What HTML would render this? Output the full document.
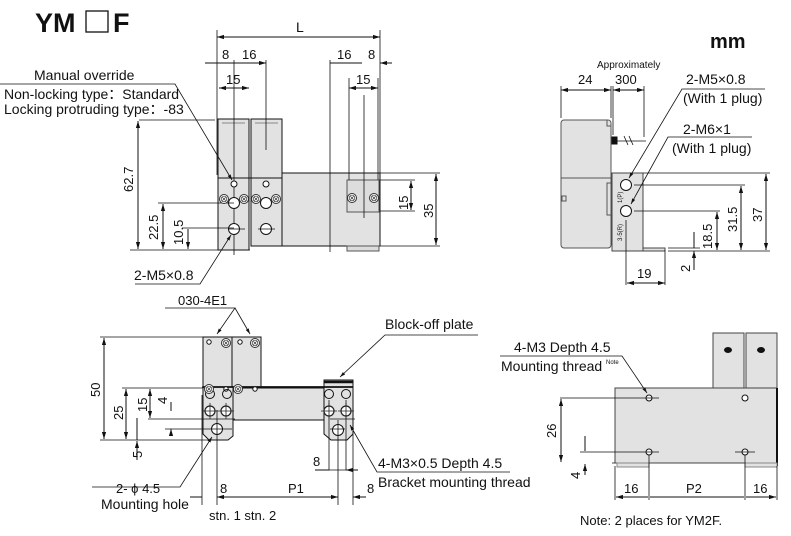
<!DOCTYPE html>
<html><head><meta charset="utf-8"><style>
html,body{margin:0;padding:0;background:#fff}
svg{display:block}
text{font-family:"Liberation Sans",Arial,sans-serif;fill:#111}
</style></head><body>
<svg width="791" height="536" viewBox="0 0 791 536" xmlns="http://www.w3.org/2000/svg">
<defs>
<marker id="a" viewBox="0 0 10 10" refX="10" refY="5" markerWidth="7" markerHeight="7" orient="auto-start-reverse"><path d="M0,2 L10,5 L0,8z" fill="#111"/></marker>
<g id="scr"><circle r="4.5" fill="#fff" stroke="#333" stroke-width="1"/><circle r="2.8" fill="none" stroke="#333" stroke-width="0.7"/><path d="M-1.6,-1.6L1.6,1.6M-1.6,1.6L1.6,-1.6" stroke="#333" stroke-width="0.7"/></g>
<g id="hc"><circle r="5" fill="#fff" stroke="#222" stroke-width="1.2"/><path d="M-8,0H8M0,-8V8" stroke="#222" stroke-width="0.8"/></g>
</defs>
<!-- Title -->
<text x="35" y="32" font-size="27" font-weight="bold">YM</text>
<rect x="86" y="11" width="22" height="21" fill="none" stroke="#111" stroke-width="1.3"/>
<text x="113" y="32" font-size="27" font-weight="bold">F</text>
<text x="710" y="48" font-size="20" font-weight="bold">mm</text>

<g stroke="#111" stroke-width="1" fill="none">
<!-- TOP-LEFT VIEW -->
<rect x="218" y="119" width="31" height="131" fill="#e2e2e2" stroke="#111"/>
<rect x="251" y="119" width="31" height="127" fill="#e2e2e2" stroke="#111"/>
<rect x="282" y="173" width="98" height="73" fill="#e2e2e2" stroke="#111"/>
<path d="M218,178H282" stroke="#111"/>
<rect x="347" y="180" width="32" height="32" fill="#ddd" stroke="#555"/>
<rect x="347" y="246" width="32" height="5" fill="#ddd" stroke="#555"/>
<path d="M222,123H245M255,123H278" stroke="#888"/>
<path d="M217,30V175M234,60V255M266,60V150M330,60V252M380,30V175M349,78V180M378,78V180M364,95V218" stroke="#111" stroke-width="0.8"/>
<path d="M217,37H380" marker-start="url(#a)" marker-end="url(#a)"/>
<path d="M205,63H217M234,63H266" marker-end="url(#a)"/>
<path d="M234,63H210" />
<path d="M330,63H362M392,63H380" marker-end="url(#a)"/>
<path d="M219,88H249" marker-start="url(#a)" marker-end="url(#a)"/>
<path d="M349,88H378" marker-start="url(#a)" marker-end="url(#a)"/>
<circle cx="234" cy="184" r="3" fill="#fff"/><circle cx="266" cy="184" r="3" fill="#fff"/>
<circle cx="234" cy="203" r="5.5" fill="#fff"/><circle cx="266" cy="203" r="5.5" fill="#fff"/>
<circle cx="234" cy="229" r="5.5" fill="#fff"/><circle cx="266" cy="229" r="5.5" fill="#fff"/>
<path d="M228,229H245M258,229H275" stroke-width="0.8"/>
<path d="M130,250H250M158,203H234M182,228H234" stroke-width="0.8"/>
<path d="M139,120H215" stroke-width="0.8"/>
<path d="M138,121V249" marker-start="url(#a)" marker-end="url(#a)"/>
<path d="M163,204V249" marker-start="url(#a)" marker-end="url(#a)"/>
<path d="M188,229V249" marker-end="url(#a)"/>
<path d="M380,173H440M380,246H440M380,180H415M380,211H415" stroke-width="0.8"/>
<path d="M436,174V245" marker-start="url(#a)" marker-end="url(#a)"/>
<path d="M411,181V210" marker-start="url(#a)" marker-end="url(#a)"/>
<path d="M0,84H175L232,180" marker-end="url(#a)" stroke-width="0.8"/>
<path d="M135,284H200L231,235" marker-end="url(#a)" stroke-width="0.8"/>
</g>
<use href="#scr" x="224" y="199"/><use href="#scr" x="244" y="199"/><use href="#scr" x="256" y="199"/><use href="#scr" x="276" y="199"/>
<use href="#scr" x="352" y="198"/><use href="#scr" x="374" y="198"/>
<text x="296" y="32" font-size="14">L</text>
<text x="222" y="59" font-size="13">8</text><text x="242" y="59" font-size="13">16</text>
<text x="337" y="59" font-size="13">16</text><text x="368" y="59" font-size="13">8</text>
<text x="226" y="84" font-size="13">15</text><text x="356" y="84" font-size="13">15</text>
<text x="34" y="80" font-size="14">Manual override</text>
<text x="4" y="99" font-size="14">Non-locking type：Standard</text>
<text x="4" y="114" font-size="14">Locking protruding type：-83</text>
<text x="134" y="280" font-size="14">2-M5×0.8</text>
<text font-size="13" transform="translate(133,192) rotate(-90)">62.7</text>
<text font-size="13" transform="translate(158,240) rotate(-90)">22.5</text>
<text font-size="13" transform="translate(183,245) rotate(-90)">10.5</text>
<text font-size="13" transform="translate(408,210) rotate(-90)">15</text>
<text font-size="13" transform="translate(433,218) rotate(-90)">35</text>

<!-- BOTTOM-LEFT VIEW -->
<g stroke="#111" stroke-width="1" fill="none">
<rect x="203" y="337" width="29" height="50" fill="#e2e2e2"/>
<rect x="232" y="337" width="29" height="50" fill="#e2e2e2"/>
<rect x="233" y="388" width="92" height="32" fill="#e2e2e2"/>
<path d="M202,387H233V436L228,440H209L203,434V387z" fill="#e2e2e2"/>
<path d="M324,387H353V434L347,440H331L324,434z" fill="#e2e2e2"/>
<path d="M324,387V380H353V387" fill="#e2e2e2"/>
<path d="M324,382H353" stroke-width="2.5"/>
<path d="M203,387H353" stroke-width="1.8"/>
<circle cx="217" cy="429" r="5.5" fill="#fff"/><circle cx="338" cy="430" r="5.5" fill="#fff"/>
<circle cx="209" cy="342" r="2.2" fill="#fff"/><circle cx="240" cy="342" r="2.2" fill="#fff"/>
<circle cx="226" cy="389" r="2.2" fill="#fff"/><circle cx="255" cy="389" r="2.2" fill="#fff"/>
<circle cx="210" cy="394" r="4.5"/><circle cx="227" cy="394" r="4.5"/>
<circle cx="329" cy="394" r="4.5"/><circle cx="346" cy="394" r="4.5"/>
<path d="M100,337H203M100,440H210M122,388H203M148,388H203M148,419H235M170,419H185M165,429H232M330,419H355M330,429H345" stroke-width="0.8"/>
<path d="M104,338V439" marker-start="url(#a)" marker-end="url(#a)"/>
<path d="M126,389V439" marker-start="url(#a)" marker-end="url(#a)"/>
<path d="M150,389V418" marker-start="url(#a)" marker-end="url(#a)"/>
<path d="M171,402V411M171,436V429" marker-end="url(#a)"/>
<path d="M137,418V440M137,460V441" marker-end="url(#a)"/>
<path d="M202,395V505M217,410V505M329,400V470M338,420V505M346,400V470M353,430V505" stroke-width="0.8"/>
<path d="M190,497H202M366,497H353" marker-end="url(#a)"/>
<path d="M217,497H338" marker-start="url(#a)" marker-end="url(#a)"/>
<path d="M315,470H329M358,470H346" marker-end="url(#a)"/>
<path d="M329,470H346" stroke-width="0.8"/>
<path d="M165,308H235L217,334" marker-end="url(#a)" stroke-width="0.8"/>
<path d="M235,308L250,334" marker-end="url(#a)" stroke-width="0.8"/>
<path d="M478,335H385L340,377" marker-end="url(#a)" stroke-width="0.8"/>
<path d="M92,487H180L212,437" marker-end="url(#a)" stroke-width="0.8"/>
<path d="M510,472H377L350,425" marker-end="url(#a)" stroke-width="0.8"/>
</g>
<use href="#scr" x="226" y="343"/><use href="#scr" x="255" y="343"/><use href="#scr" x="209" y="389"/><use href="#scr" x="238" y="389"/>
<use href="#hc" x="210" y="411"/><use href="#hc" x="226" y="411"/><use href="#hc" x="329" y="411"/><use href="#hc" x="346" y="411"/>
<text x="178" y="305" font-size="13">030-4E1</text>
<text x="385" y="329" font-size="14">Block-off plate</text>
<text x="116" y="493" font-size="13">2- ϕ 4.5</text>
<text x="101" y="509" font-size="14">Mounting hole</text>
<text x="220" y="493" font-size="13">8</text><text x="288" y="493" font-size="13">P1</text><text x="367" y="493" font-size="13">8</text>
<text x="313" y="466" font-size="13">8</text>
<text x="209" y="520" font-size="13">stn. 1 stn. 2</text>
<text x="378" y="468" font-size="14">4-M3×0.5 Depth 4.5</text>
<text x="378" y="487" font-size="14">Bracket mounting thread</text>
<text font-size="13" transform="translate(100,397) rotate(-90)">50</text>
<text font-size="13" transform="translate(123,420) rotate(-90)">25</text>
<text font-size="13" transform="translate(147,412) rotate(-90)">15</text>
<text font-size="13" transform="translate(167,404) rotate(-90)">4</text>
<text font-size="13" transform="translate(142,458) rotate(-90)">5</text>

<!-- TOP-RIGHT VIEW -->
<g stroke="#111" stroke-width="1" fill="none">
<rect x="561" y="120" width="50" height="128" rx="3" fill="#e2e2e2" stroke="#555"/>
<path d="M561,178H611M607,120V126H611" stroke="#555"/>
<rect x="562" y="196" width="4" height="5" stroke="#555"/>
<rect x="607" y="183" width="5" height="32" stroke="#555"/>
<rect x="612" y="173" width="31" height="78" fill="#e2e2e2" stroke="#444"/>
<rect x="643" y="248" width="22" height="3" fill="#e2e2e2" stroke="#444"/>
<rect x="612" y="137" width="5" height="7" fill="#111"/>
<path d="M617,141H646M624,136L628,145M629,136L633,145" stroke-width="0.8"/>
<circle cx="626" cy="185" r="5.5" fill="#fff"/><circle cx="626" cy="211" r="5.5" fill="#fff"/>
<path d="M561,86V118M611,86V118M613,86V135M644,86V137M626,220V285M665,250V285M643,173H770M634,185H745M634,211H720M668,251H770M668,248H700" stroke-width="0.8"/>
<path d="M561,90H611" marker-start="url(#a)" marker-end="url(#a)"/>
<path d="M613,90H644" marker-start="url(#a)" marker-end="url(#a)"/>
<path d="M766,174V250" marker-start="url(#a)" marker-end="url(#a)"/>
<path d="M741,186V250" marker-start="url(#a)" marker-end="url(#a)"/>
<path d="M717,212V250" marker-start="url(#a)" marker-end="url(#a)"/>
<path d="M694,232V248M694,270V251" marker-end="url(#a)"/>
<path d="M627,283H665" marker-start="url(#a)" marker-end="url(#a)"/>
<path d="M765,89H682L629,178" marker-end="url(#a)" stroke-width="0.8"/>
<path d="M752,137H668L631,204" marker-end="url(#a)" stroke-width="0.8"/>
</g>
<text x="597" y="68" font-size="10">Approximately</text>
<text x="578" y="84" font-size="13">24</text><text x="615" y="84" font-size="13">300</text>
<text x="686" y="84" font-size="14">2-M5×0.8</text>
<text x="683" y="103" font-size="14">(With 1 plug)</text>
<text x="683" y="134" font-size="14">2-M6×1</text>
<text x="672" y="153" font-size="14">(With 1 plug)</text>
<text font-size="6" transform="translate(622,203) rotate(-90)">1(P)</text>
<text font-size="6" transform="translate(622,241) rotate(-90)">3·5(R)</text>
<text x="637" y="278" font-size="13">19</text>
<text font-size="13" transform="translate(762,222) rotate(-90)">37</text>
<text font-size="13" transform="translate(737,232) rotate(-90)">31.5</text>
<text font-size="13" transform="translate(712,249) rotate(-90)">18.5</text>
<text font-size="13" transform="translate(690,272) rotate(-90)">2</text>

<!-- BOTTOM-RIGHT VIEW -->
<g stroke="#111" stroke-width="1" fill="none">
<rect x="713" y="333" width="31" height="56" fill="#e2e2e2" stroke="#444"/>
<rect x="746" y="333" width="31" height="56" fill="#e2e2e2" stroke="#444"/>
<rect x="615" y="388" width="162" height="75" fill="#e2e2e2" stroke="#444"/>
<path d="M777,388V466" stroke-width="2"/>
<rect x="617" y="463" width="32" height="4" fill="#e2e2e2" stroke="#888"/>
<rect x="745" y="463" width="32" height="4" fill="#e2e2e2" stroke="#888"/>
<ellipse cx="728" cy="350" rx="3.5" ry="2.5" fill="#111"/><ellipse cx="761" cy="350" rx="3.5" ry="2.5" fill="#111"/>
<circle cx="649" cy="398" r="3" fill="#fff"/><circle cx="745" cy="398" r="3" fill="#fff"/>
<circle cx="649" cy="452" r="3" fill="#fff"/><circle cx="745" cy="452" r="3" fill="#fff"/>
<path d="M560,398H659M580,452H659M735,452H755M612,463H615" stroke-width="0.8"/>
<path d="M615,466V500M649,455V500M745,455V500M777,466V500" stroke-width="0.8"/>
<path d="M561,399V462" marker-start="url(#a)" marker-end="url(#a)"/>
<path d="M585,436V451M585,475V464" marker-end="url(#a)"/>
<path d="M616,497H648M650,497H744M746,497H776" marker-start="url(#a)" marker-end="url(#a)"/>
<path d="M500,356H622L647,393" marker-end="url(#a)" stroke-width="0.8"/>
</g>
<text x="514" y="352" font-size="14">4-M3 Depth 4.5</text>
<text x="501" y="371" font-size="14">Mounting thread</text><text x="606" y="364" font-size="6">Note</text>
<text x="624" y="493" font-size="13">16</text><text x="686" y="493" font-size="13">P2</text><text x="753" y="493" font-size="13">16</text>
<text x="580" y="525" font-size="13">Note: 2 places for YM2F.</text>
<text font-size="13" transform="translate(556,438) rotate(-90)">26</text>
<text font-size="13" transform="translate(580,479) rotate(-90)">4</text>
</svg>
</body></html>
